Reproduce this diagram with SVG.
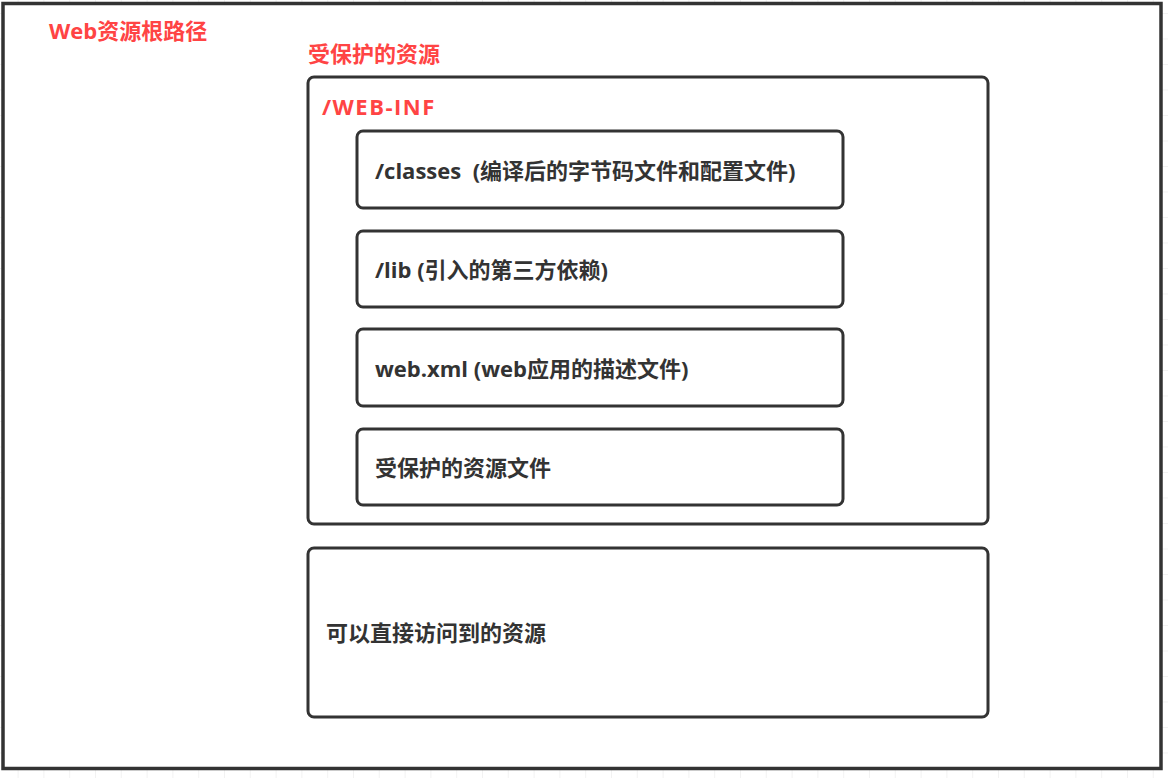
<svg xmlns="http://www.w3.org/2000/svg" width="1168" height="778" viewBox="0 0 1168 778">
<style>
.box{fill:#fff;stroke:#333;stroke-width:3}
.red{fill:#ff4444;font-family:"Open Sans","Noto Sans CJK SC",sans-serif;font-weight:bold;font-size:22px}
.lbl{fill:#333;font-family:"Open Sans","Noto Sans CJK SC",sans-serif;font-weight:bold;font-size:22px}
</style>
<defs>
<pattern id="grid" x="17.6" y="13" width="25.8" height="25.5" patternUnits="userSpaceOnUse">
<path d="M0 0V25.5M0 0H25.8" fill="none" stroke="#e6e6e6" stroke-width="1"/>
</pattern>
</defs>
<rect width="1168" height="778" fill="#fff"/>
<rect width="1168" height="778" fill="url(#grid)"/>
<g id="root">
<rect x="3" y="3.5" width="1158" height="765" fill="#fff" stroke="#333" stroke-width="3.5"/>
<text class="red" x="49" y="39">Web资源根路径</text>
</g>
<g id="protected">
<text class="red" x="308" y="62">受保护的资源</text>
</g>
<g id="webinf">
<rect class="box" x="308" y="77" width="680" height="447" rx="6"/>
<text class="red" x="322" y="115" letter-spacing="1.5">/WEB-INF</text>
</g>
<g id="classes">
<rect class="box" x="357" y="131" width="486" height="77" rx="6"/>
<text class="lbl" x="375" y="179" xml:space="preserve">/classes  (编译后的字节码文件和配置文件)</text>
</g>
<g id="lib">
<rect class="box" x="357" y="231" width="486" height="76" rx="6"/>
<text class="lbl" x="375" y="278">/lib (引入的第三方依赖)</text>
</g>
<g id="webxml">
<rect class="box" x="357" y="329" width="486" height="77" rx="6"/>
<text class="lbl" x="375" y="377">web.xml (web应用的描述文件)</text>
</g>
<g id="protectedfiles">
<rect class="box" x="357" y="429" width="486" height="76" rx="6"/>
<text class="lbl" x="375" y="476">受保护的资源文件</text>
</g>
<g id="public">
<rect class="box" x="308" y="548" width="680" height="169" rx="6"/>
<text class="lbl" x="326" y="641">可以直接访问到的资源</text>
</g>
<g id="connectors"></g>
</svg>
